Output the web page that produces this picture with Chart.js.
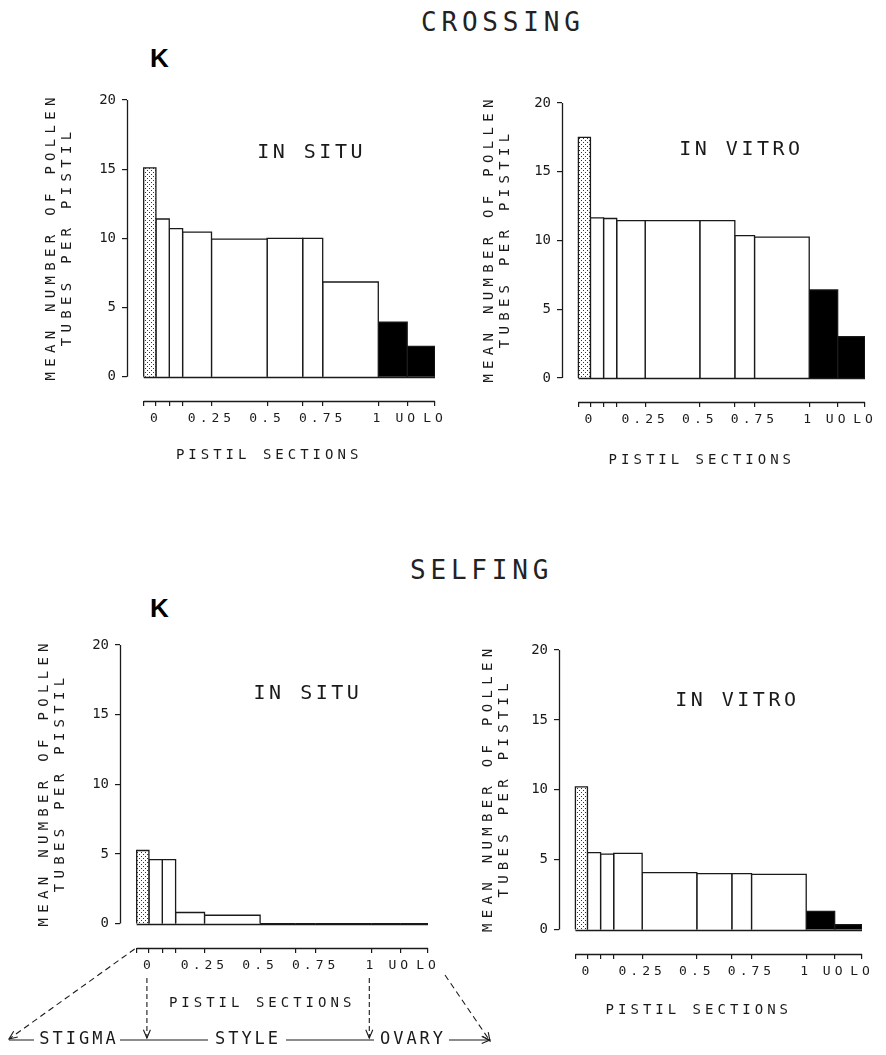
<!DOCTYPE html>
<html>
<head>
<meta charset="utf-8">
<script src="https://cdn.jsdelivr.net/npm/chart.js@4.4.1/dist/chart.umd.min.js"></script>
<style>
  body { margin: 0; background: #fff; }
  #page { position: relative; width: 886px; height: 1055px; overflow: hidden; background: #fff; }
  canvas { position: absolute; }
  .head { position: absolute; font-family: 'DejaVu Sans Mono', monospace; color: #222; line-height: 1; white-space: nowrap; }
  .k { position: absolute; font-family: 'Liberation Sans', Arial, sans-serif; font-weight: bold; font-size: 26px; line-height: 1; color: #000; }
</style>
</head>
<body>
<div id="page">
  <div class="head" style="left:421px; top:9px; font-size:26px; letter-spacing:4.8px;">CROSSING</div>
  <div class="k" style="left:150px; top:45px;">K</div>
  <div class="head" style="left:410px; top:557px; font-size:26px; letter-spacing:4.8px;">SELFING</div>
  <div class="k" style="left:150px; top:595px;">K</div>

  <canvas id="crossSitu" width="460" height="420" style="left:0; top:60px;"></canvas>
  <canvas id="crossVitro" width="446" height="420" style="left:440px; top:60px;"></canvas>
  <canvas id="selfSitu" width="500" height="455" style="left:0; top:600px;"></canvas>
  <canvas id="selfVitro" width="446" height="455" style="left:440px; top:600px;"></canvas>
</div>
<script>
const MONO = "'DejaVu Sans Mono', monospace";
const INK = '#1a1a1a';

// pistil sections: stigma, style (0..1), upper and lower ovary
const sectionEdges = [-0.055, 0, 0.06, 0.12, 0.25, 0.5, 0.66, 0.75, 1, 1.13, 1.255];
const sectionTissue = ['stigma', 'style', 'style', 'style', 'style', 'style', 'style', 'style', 'ovary', 'ovary'];
const xTickLabels = ['', '0', '', '', '0.25', '0.5', '', '0.75', '1', 'UO', 'LO'];
const yTickValues = [0, 5, 10, 15, 20];
const xAxisTitle = 'PISTIL SECTIONS';
const yAxisTitle = ['MEAN NUMBER OF POLLEN', 'TUBES PER PISTIL'];

// mean number of pollen tubes per pistil, one value per section
const crossingInSitu = [15.1, 11.4, 10.7, 10.45, 9.95, 10.0, 10.0, 6.85, 3.95, 2.2];
const crossingInVitro = [17.5, 11.65, 11.6, 11.45, 11.45, 11.45, 10.35, 10.25, 6.4, 3.0];
const selfingInSitu = [5.25, 4.6, 4.6, 0.8, 0.6, 0, 0, 0, 0, 0];
const selfingInVitro = [10.2, 5.5, 5.4, 5.45, 4.07, 4.0, 4.0, 3.95, 1.3, 0.35];

function dotPattern() {
  const c = document.createElement('canvas');
  c.width = 4; c.height = 4;
  const g = c.getContext('2d');
  g.fillStyle = '#fff';
  g.fillRect(0, 0, 4, 4);
  g.fillStyle = '#333';
  g.fillRect(1, 0, 1, 1);
  g.fillRect(3, 2, 1, 1);
  return g.createPattern(c, 'repeat');
}

const tissueFill = { stigma: dotPattern(), style: '#fff', ovary: '#000' };

function barDatasets(values) {
  return values.map((v, i) => {
    const a = sectionEdges[i], b = sectionEdges[i + 1];
    return {
      data: [{x: a, y: 0}, {x: a, y: v}, {x: b, y: v}, {x: b, y: 0}],
      fill: 'origin',
      backgroundColor: tissueFill[sectionTissue[i]],
      borderColor: INK,
      borderWidth: 1.3,
      pointRadius: 0,
      tension: 0
    };
  });
}

function arrowHead(ctx, fx, fy, tx, ty) {
  const ang = Math.atan2(ty - fy, tx - fx);
  ctx.beginPath();
  ctx.moveTo(tx - 9 * Math.cos(ang - 0.4), ty - 9 * Math.sin(ang - 0.4));
  ctx.lineTo(tx, ty);
  ctx.lineTo(tx - 9 * Math.cos(ang + 0.4), ty - 9 * Math.sin(ang + 0.4));
  ctx.stroke();
}

function arrow(ctx, fx, fy, tx, ty, dash) {
  ctx.setLineDash(dash || []);
  ctx.beginPath();
  ctx.moveTo(fx, fy);
  ctx.lineTo(tx, ty);
  ctx.stroke();
  ctx.setLineDash([]);
  arrowHead(ctx, fx, fy, tx, ty);
}

// axis lines, bar baseline, titles, panel caption and letter spacing for the plotter lettering
const panelText = {
  id: 'panelText',
  beforeDraw(chart) { chart.ctx.letterSpacing = '0px'; },
  afterDatasetsDraw(chart) {
    const {ctx, scales: {x, y}} = chart;
    ctx.save();
    ctx.strokeStyle = INK;
    ctx.lineWidth = 1.3;
    ctx.beginPath();
    const by = Math.round(y.getPixelForValue(0)) + 0.5;
    ctx.moveTo(x.getPixelForValue(sectionEdges[0]), by);
    ctx.lineTo(x.getPixelForValue(sectionEdges[sectionEdges.length - 1]), by);
    ctx.stroke();
    ctx.restore();
    ctx.letterSpacing = '4px';
  },
  afterDraw(chart, args, o) {
    const {ctx, chartArea, scales: {x, y}} = chart;
    ctx.save();
    ctx.strokeStyle = INK;
    ctx.lineWidth = 1.3;
    ctx.beginPath();
    const ax = Math.round(chartArea.left) + 0.5;
    ctx.moveTo(ax, y.getPixelForValue(20));
    ctx.lineTo(ax, y.getPixelForValue(0));
    const ay = Math.round(chartArea.bottom) + 0.5;
    ctx.moveTo(x.getPixelForValue(sectionEdges[0]), ay);
    ctx.lineTo(x.getPixelForValue(sectionEdges[sectionEdges.length - 1]), ay);
    ctx.stroke();

    ctx.fillStyle = INK;
    ctx.textAlign = 'center';
    ctx.textBaseline = 'middle';
    ctx.letterSpacing = '3.5px';
    ctx.font = '20px ' + MONO;
    ctx.fillText(o.label, x.getPixelForValue(o.at[0]), y.getPixelForValue(o.at[1]));

    ctx.letterSpacing = '4px';
    ctx.font = '14px ' + MONO;
    ctx.fillText(xAxisTitle, x.getPixelForValue(0.5) + 2, o.xTitleY);

    ctx.translate(o.yTitleX, y.getPixelForValue(10));
    ctx.rotate(-Math.PI / 2);
    ctx.letterSpacing = '5.3px';
    yAxisTitle.forEach((line, i) => ctx.fillText(line, 2, i * 16));
    ctx.restore();
    ctx.letterSpacing = '0px';
  }
};

// stigma / style / ovary key under the selfing in situ panel
const pistilGuide = {
  id: 'pistilGuide',
  afterDraw(chart) {
    const {ctx, chartArea, scales: {x}} = chart;
    const x0 = x.getPixelForValue(0) - 2;
    const x1 = x.getPixelForValue(1) - 2;
    const xs = x.getPixelForValue(sectionEdges[0]);
    const xe = x.getPixelForValue(sectionEdges[sectionEdges.length - 1]);
    const top = chartArea.bottom + 30;
    const base = chart.height - 15;
    ctx.save();
    ctx.strokeStyle = INK;
    ctx.lineWidth = 1.1;
    arrow(ctx, xs - 2, chartArea.bottom + 1, 9, base - 1, [6, 4]);
    arrow(ctx, x0, top, x0, base - 2, [5, 3]);
    arrow(ctx, x1, top, x1, base - 2, [5, 3]);
    arrow(ctx, xe + 17, top - 3, 490, base + 1, [6, 4]);
    ctx.beginPath();
    ctx.moveTo(9, base); ctx.lineTo(34, base);
    ctx.moveTo(120, base); ctx.lineTo(208, base);
    ctx.moveTo(286, base); ctx.lineTo(374, base);
    ctx.stroke();
    arrow(ctx, 449, base, 490, base);
    ctx.letterSpacing = '3px';
    ctx.font = '17px ' + MONO;
    ctx.fillStyle = INK;
    ctx.textAlign = 'center';
    ctx.textBaseline = 'middle';
    ctx.fillText('STIGMA', 79, base);
    ctx.fillText('STYLE', 248, base);
    ctx.fillText('OVARY', 413, base);
    ctx.restore();
    ctx.letterSpacing = '0px';
  }
};

function makePanel(id, values, opt) {
  return new Chart(document.getElementById(id), {
    type: 'line',
    data: { datasets: barDatasets(values) },
    options: {
      responsive: false,
      animation: false,
      devicePixelRatio: 1,
      events: [],
      layout: { padding: { top: opt.padTop, right: opt.padRight, left: 0, bottom: 0 } },
      plugins: {
        legend: { display: false },
        tooltip: { enabled: false },
        panelText: { label: opt.label, at: opt.labelAt, xTitleY: opt.xTitleY, yTitleX: opt.yTitleX }
      },
      scales: {
        x: {
          type: 'linear',
          min: -0.13,
          max: 1.255,
          afterBuildTicks: s => { s.ticks = sectionEdges.map(v => ({ value: v })); },
          afterFit: s => { s.height = opt.xHeight; },
          ticks: {
            autoSkip: false, maxRotation: 0, minRotation: 0, padding: 5, color: INK, z: 1,
            font: { family: MONO, size: 13 },
            callback: (v, i) => xTickLabels[i]
          },
          grid: { drawOnChartArea: false, tickLength: 5, color: INK, lineWidth: 1.2, z: 1 },
          border: { display: false }
        },
        y: {
          type: 'linear',
          min: -1.75,
          max: 20,
          afterBuildTicks: s => { s.ticks = yTickValues.map(v => ({ value: v })); },
          afterFit: s => { s.width = opt.yWidth; },
          ticks: { padding: 6, color: INK, font: { family: MONO, size: 14 } },
          grid: { drawOnChartArea: false, tickLength: 5, color: INK, lineWidth: 1.2, z: 1 },
          border: { display: false }
        }
      }
    },
    plugins: [panelText].concat(opt.extra || [])
  });
}

makePanel('crossSitu', crossingInSitu, {
  label: 'IN SITU', labelAt: [0.7, 16.2],
  padTop: 40, padRight: 25, yWidth: 127, xHeight: 79, xTitleY: 395, yTitleX: 51
});
makePanel('crossVitro', crossingInVitro, {
  label: 'IN VITRO', labelAt: [0.69, 16.6],
  padTop: 43, padRight: 21, yWidth: 122, xHeight: 78, xTitleY: 400, yTitleX: 49
});
makePanel('selfSitu', selfingInSitu, {
  label: 'IN SITU', labelAt: [0.715, 16.5],
  padTop: 45, padRight: 72, yWidth: 120, xHeight: 107, xTitleY: 403, yTitleX: 44,
  extra: [pistilGuide]
});
makePanel('selfVitro', selfingInVitro, {
  label: 'IN VITRO', labelAt: [0.685, 16.4],
  padTop: 50, padRight: 24, yWidth: 119, xHeight: 101, xTitleY: 410, yTitleX: 48
});
</script>
</body>
</html>
